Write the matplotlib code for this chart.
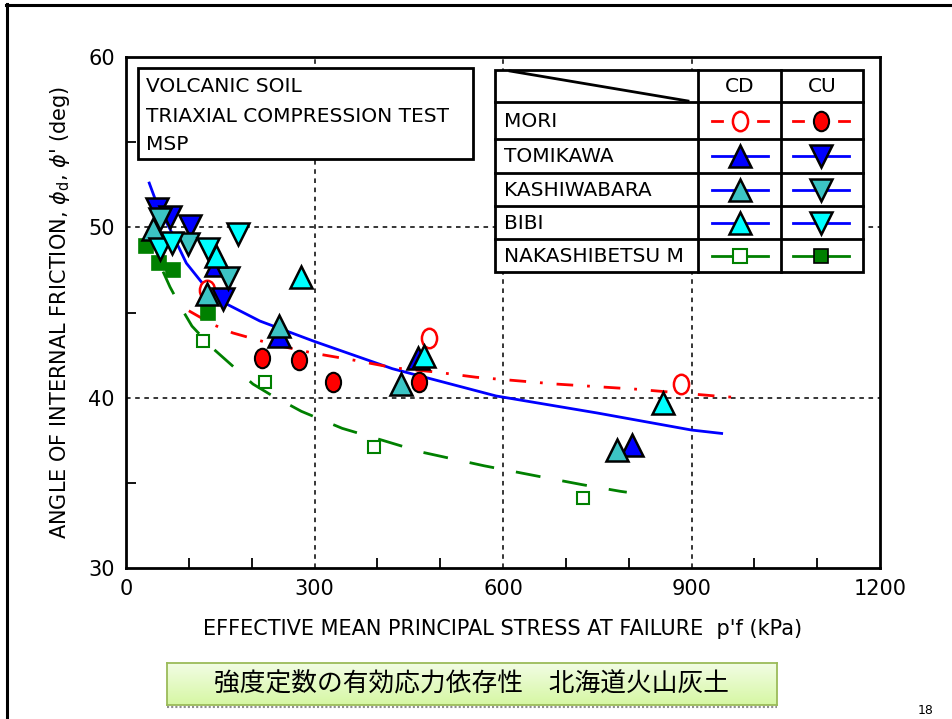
import numpy as np
import matplotlib
matplotlib.use("Agg")
import matplotlib.pyplot as plt
from matplotlib.path import Path
from matplotlib.transforms import Affine2D
from matplotlib.lines import Line2D
from matplotlib.patches import Rectangle

# ---------------- data ----------------
mori_cd_p = [129, 483, 883]
mori_cd_phi = [46.3, 43.5, 40.8]
mori_cu_p = [217, 275, 329, 467]
mori_cu_phi = [42.3, 42.2, 40.9, 40.9]

tomi_cd_p = [144, 244, 464, 805]
tomi_cd_phi = [47.8, 43.6, 42.3, 37.2]
tomi_cu_p = [49, 70, 102, 154]
tomi_cu_phi = [51.1, 50.6, 50.1, 45.8]

kashi_cd_p = [43, 129, 244, 438, 781]
kashi_cd_phi = [49.9, 46.1, 44.2, 40.8, 36.9]
kashi_cu_p = [54, 98, 162]
kashi_cu_phi = [50.5, 49.0, 47.0]

bibi_cd_p = [144, 279, 475, 854]
bibi_cd_phi = [48.3, 47.1, 42.45, 39.7]
bibi_cu_p = [54, 73, 130, 179]
bibi_cu_phi = [48.7, 49.1, 48.7, 49.6]

naka_cd_p = [122, 222, 395, 727]
naka_cd_phi = [43.3, 40.9, 37.1, 34.1]
naka_cu_p = [32, 52, 75, 130]
naka_cu_phi = [48.9, 47.9, 47.5, 45.0]

# fitted curves
blue_fit_p = [37, 50, 70, 96, 122, 160, 213, 300, 424, 589, 750, 900, 948]
blue_fit_phi = [52.6, 51.3, 49.9, 47.9, 46.7, 45.5, 44.5, 43.3, 41.7, 40.1, 39.1, 38.1, 37.9]
red_fit_p = [100, 138, 170, 237, 300, 363, 427, 494, 557, 684, 748, 811, 938, 975]
red_fit_phi = [45.1, 44.3, 43.8, 43.1, 42.6, 42.2, 41.75, 41.5, 41.2, 40.8, 40.65, 40.5, 40.1, 40.0]
green_fit_p = [59, 70, 89, 105, 138, 202, 229, 279, 344, 408, 471, 570, 668, 725, 787, 797]
green_fit_phi = [47.4, 46.5, 45.2, 44.2, 42.9, 40.8, 40.2, 39.2, 38.2, 37.5, 36.8, 36.0, 35.3, 34.9, 34.5, 34.45]

legend_rows = ["MORI", "TOMIKAWA", "KASHIWABARA", "BIBI", "NAKASHIBETSU M"]
legend_cols = ["CD", "CU"]
info_lines = ["VOLCANIC SOIL", "TRIAXIAL COMPRESSION TEST", "MSP"]
x_ticks = [0, 300, 600, 900, 1200]
y_ticks = [30, 40, 50, 60]
caption = "強度定数の有効応力依存性\u3000北海道火山灰土"
page_no = "18"

# ---------------- style ----------------
W, H = 953, 719
NARROW = ["Liberation Sans Narrow", "DejaVu Sans"]
plt.rcParams["font.family"] = NARROW
plt.rcParams["mathtext.fontset"] = "dejavusans"

RED = "#ff0000"
BLUE = "#0000ff"
CYAN = "#00ffff"
TEAL = "#3cc4c4"
GREEN = "#008000"

ell = Path.unit_circle().transformed(Affine2D().scale(0.78, 1.0))

fig = plt.figure(figsize=(W / 100, H / 100), dpi=100)
fig.patch.set_facecolor("white")


def fx(x):
    return x / W


def fy(y):
    return 1 - y / H


ax = fig.add_axes([fx(126), fy(568), fx(880) - fx(126), fy(57) - fy(568)])
ax.set_xlim(0, 1200)
ax.set_ylim(30, 60)

# grid
for gx in [300, 600, 900]:
    ax.axvline(gx, color="black", lw=1.1, ls=(0, (3, 3)), zorder=1)
for gy in [40, 50]:
    ax.axhline(gy, color="black", lw=1.1, ls=(0, (3, 3)), zorder=1)

ax.set_xticks(x_ticks)
ax.set_yticks(y_ticks)
ax.set_xticks([100, 200, 400, 500, 700, 800, 1000, 1100], minor=True)
ax.set_yticks([35, 45, 55], minor=True)
ax.tick_params(which="major", length=0, labelsize=15, pad=8)
ax.tick_params(which="minor", direction="in", length=7, width=1.3)
for sp in ax.spines.values():
    sp.set_linewidth(2)

ax.set_xlabel("EFFECTIVE MEAN PRINCIPAL STRESS AT FAILURE  p'f (kPa)", fontsize=15, labelpad=14)
ax.set_ylabel(r"ANGLE OF INTERNAL FRICTION, $\phi_{\rm d}$, $\phi$' (deg)", fontsize=15, labelpad=12)

# fit curves
ax.plot(blue_fit_p, blue_fit_phi, color=BLUE, lw=2, zorder=2)
ax.plot(red_fit_p, red_fit_phi, color=RED, lw=2, ls=(0, (6, 5, 1, 5)), zorder=2)
ax.plot(green_fit_p, green_fit_phi, color=GREEN, lw=2, ls=(0, (9, 8)), zorder=2)

# points
ax.plot(naka_cd_p, naka_cd_phi, ls="none", marker="s", ms=9, mfc="white", mec=GREEN, mew=1.5, zorder=3)
ax.plot(naka_cu_p, naka_cu_phi, ls="none", marker="s", ms=10, mfc=GREEN, mec=GREEN, mew=1.2, zorder=3)
ax.plot(mori_cd_p, mori_cd_phi, ls="none", marker=ell, ms=14, mfc="white", mec=RED, mew=1.8, zorder=3)
ax.plot(mori_cu_p, mori_cu_phi, ls="none", marker=ell, ms=14, mfc=RED, mec="black", mew=1.5, zorder=3)

tri = dict(ls="none", ms=16, mec="black", mew=1.8, zorder=4)
ax.plot(tomi_cd_p, tomi_cd_phi, marker="^", mfc=BLUE, **tri)
ax.plot(tomi_cu_p, tomi_cu_phi, marker="v", mfc=BLUE, **tri)
ax.plot(kashi_cd_p, kashi_cd_phi, marker="^", mfc=TEAL, **tri)
ax.plot(kashi_cu_p, kashi_cu_phi, marker="v", mfc=TEAL, **tri)
ax.plot(bibi_cd_p, bibi_cd_phi, marker="^", mfc=CYAN, **tri)
ax.plot(bibi_cu_p, bibi_cu_phi, marker="v", mfc=CYAN, **tri)

# ---------------- info box ----------------
fig.patches.append(Rectangle((fx(138), fy(159)), fx(473) - fx(138), fy(68) - fy(159),
                             transform=fig.transFigure, fill=True, facecolor="white",
                             edgecolor="black", lw=2, zorder=5))
for i, t in enumerate(info_lines):
    fig.text(fx(146), fy(87 + 29 * i), t, fontsize=14.5, va="center", ha="left", zorder=6)

# ---------------- legend table ----------------
tx0, tx1 = 495, 863
col_x = [698, 781]
row_y = [70, 102, 139, 173, 206, 239, 272]
fig.patches.append(Rectangle((fx(tx0), fy(row_y[-1])), fx(tx1) - fx(tx0), fy(row_y[0]) - fy(row_y[-1]),
                             transform=fig.transFigure, facecolor="white", edgecolor="black",
                             lw=2, zorder=5))


def fline(xs, ys, **kw):
    fig.lines.append(Line2D([fx(v) for v in xs], [fy(v) for v in ys],
                            transform=fig.transFigure, **kw))


for cx in col_x:
    fline([cx, cx], [row_y[0], row_y[-1]], color="black", lw=2, zorder=6)
for ry in row_y[1:-1]:
    fline([tx0, tx1], [ry, ry], color="black", lw=2, zorder=6)
fline([510, 688], [71, 101], color="black", lw=2, zorder=6)

fig.text(fx(740), fy(87), legend_cols[0], fontsize=14.5, ha="center", va="center", zorder=7)
fig.text(fx(822), fy(87), legend_cols[1], fontsize=14.5, ha="center", va="center", zorder=7)
for i, name in enumerate(legend_rows):
    cy = (row_y[i + 1] + row_y[i + 2]) / 2
    fig.text(fx(504), fy(cy + 1), name, fontsize=14.5, ha="left", va="center", zorder=7)

cd_c, cu_c = 740, 821
specs = [
    (dict(marker=ell, ms=14, mfc="white", mec=RED, mew=1.8), dict(marker=ell, ms=14, mfc=RED, mec="black", mew=1.5), RED, True),
    (dict(marker="^", ms=16, mfc=BLUE, mec="black", mew=1.8), dict(marker="v", ms=16, mfc=BLUE, mec="black", mew=1.8), BLUE, False),
    (dict(marker="^", ms=16, mfc=TEAL, mec="black", mew=1.8), dict(marker="v", ms=16, mfc=TEAL, mec="black", mew=1.8), BLUE, False),
    (dict(marker="^", ms=16, mfc=CYAN, mec="black", mew=1.8), dict(marker="v", ms=16, mfc=CYAN, mec="black", mew=1.8), BLUE, False),
    (dict(marker="s", ms=10, mfc="white", mec=GREEN, mew=1.5), dict(marker="s", ms=10, mfc=GREEN, mec="black", mew=1.2), GREEN, False),
]
for i, (mcd, mcu, lc, dashed) in enumerate(specs):
    cy = (row_y[i + 1] + row_y[i + 2]) / 2
    for c, mk in [(cd_c, mcd), (cu_c, mcu)]:
        if dashed:
            fline([c - 28, c - 18], [cy, cy], color=lc, lw=2, zorder=7)
            fline([c + 18, c + 28], [cy, cy], color=lc, lw=2, zorder=7)
        else:
            fline([c - 28, c + 28], [cy, cy], color=lc, lw=2, zorder=7)
        fig.lines.append(Line2D([fx(c)], [fy(cy)], transform=fig.transFigure,
                                ls="none", zorder=8, **mk))

# ---------------- slide frame ----------------
fline([7, 7], [4, 719], color="black", lw=2.2)
fline([6, 953], [5, 5], color="black", lw=2.2)

# ---------------- caption ----------------
cap_ax = fig.add_axes([fx(167), fy(705), fx(777) - fx(167), fy(663) - fy(705)])
grad = np.linspace(0, 1, 64).reshape(-1, 1)
top = np.array([0.95, 0.99, 0.90])
bot = np.array([0.84, 0.97, 0.64])
img = top[None, None, :] * (1 - grad[:, :, None]) + bot[None, None, :] * grad[:, :, None]
cap_ax.imshow(img, aspect="auto", extent=[0, 1, 0, 1], origin="upper")
cap_ax.set_xticks([])
cap_ax.set_yticks([])
for sp in cap_ax.spines.values():
    sp.set_color("#9bbb59")
    sp.set_linewidth(1.3)
cap_ax.text(0.5, 0.5, caption, transform=cap_ax.transAxes, ha="center", va="center",
            fontsize=18.5, family=["Noto Sans CJK JP", "DejaVu Sans"])
fline([167, 777], [707, 707], color="#909090", lw=1.5, ls=(0, (1, 1)))

fig.text(fx(926), fy(711), page_no, fontsize=9, ha="center", va="center",
         family=["DejaVu Sans"])

fig.savefig("out.png", dpi=100)
